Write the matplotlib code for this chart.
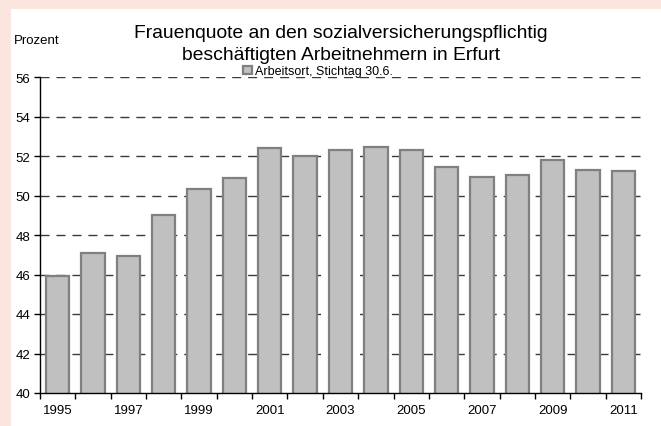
import matplotlib
matplotlib.use("Agg")
import matplotlib.pyplot as plt
import numpy as np

# Frauenquote (Prozent) der sozialversicherungspflichtig Beschäftigten, Arbeitsort Erfurt
years = [1995, 1996, 1997, 1998, 1999, 2000, 2001, 2002, 2003, 2004,
         2005, 2006, 2007, 2008, 2009, 2010, 2011]
quote = [45.9, 47.1, 46.95, 49.0, 50.35, 50.9, 52.4, 52.0, 52.3, 52.45,
         52.3, 51.45, 50.95, 51.05, 51.8, 51.3, 51.25]
y_ticks = [40, 42, 44, 46, 48, 50, 52, 54, 56]
series_label = "Arbeitsort, Stichtag 30.6."
title_lines = ["Frauenquote an den sozialversicherungspflichtig",
               "beschäftigten Arbeitnehmern in Erfurt"]
y_unit = "Prozent"

plt.rcParams["font.family"] = ["Liberation Sans", "DejaVu Sans"]

W, H = 661, 427
fig = plt.figure(figsize=(W / 100, H / 100), dpi=100)
fig.patch.set_facecolor("white")

# pink frame strips along the top and left edge
pink = "#FAE6DE"
fig.patches.append(plt.Rectangle((0, 1 - 10 / H), 1, 10 / H, transform=fig.transFigure,
                                 facecolor=pink, edgecolor="none", zorder=0))
fig.patches.append(plt.Rectangle((0, 0), 11 / W, 1, transform=fig.transFigure,
                                 facecolor=pink, edgecolor="none", zorder=0))

left, right, top, bottom = 40, 641, 78, 394
ax = fig.add_axes([left / W, (H - bottom) / H, (right - left) / W, (bottom - top) / H])
ax.set_facecolor("none")

x = np.arange(len(years))
bars = ax.bar(x, quote, width=0.66, color="#C0C0C0", edgecolor="#808080",
              linewidth=1.6, zorder=3, label=series_label)

ax.set_ylim(40, 56)
ax.set_xlim(-0.5, len(years) - 0.5)
ax.set_yticks(y_ticks)
ax.set_yticklabels([str(v) for v in y_ticks], fontsize=9.5)

# category boundary ticks, labels every second year
ax.set_xticks(np.arange(-0.5, len(years), 1.0))
ax.set_xticklabels([])
ax.set_xticks(x[::2], minor=True)
ax.set_xticklabels([str(y) for y in years[::2]], minor=True, fontsize=9.5)
ax.tick_params(axis="x", which="minor", length=0, pad=8)
ax.tick_params(axis="x", which="major", length=4, width=1, direction="out")
ax.tick_params(axis="y", length=4, width=1, direction="out", pad=3)

for v in y_ticks[1:]:
    ax.axhline(v, color="#3a3a3a", linewidth=1.0, linestyle=(0, (6.5, 5)), zorder=1)

for side in ("top", "right"):
    ax.spines[side].set_visible(False)
for side in ("left", "bottom"):
    ax.spines[side].set_color("black")
    ax.spines[side].set_linewidth(1.0)
    ax.spines[side].set_zorder(4)

cx = ((left + right) / 2) / W
fig.text(cx, 1 - 33 / H, title_lines[0], ha="center", va="center", fontsize=13.9)
fig.text(cx, 1 - 56 / H, title_lines[1], ha="center", va="center", fontsize=13.9)
fig.text(14 / W, 1 - 41 / H, y_unit, ha="left", va="center", fontsize=9.5)

ax.legend(loc="center", bbox_to_anchor=(0.463, 1.018), frameon=False, fontsize=9,
          handlelength=0.65, handleheight=0.65, handletextpad=0.3,
          borderpad=0, borderaxespad=0)

fig.savefig("out.png", dpi=100)
